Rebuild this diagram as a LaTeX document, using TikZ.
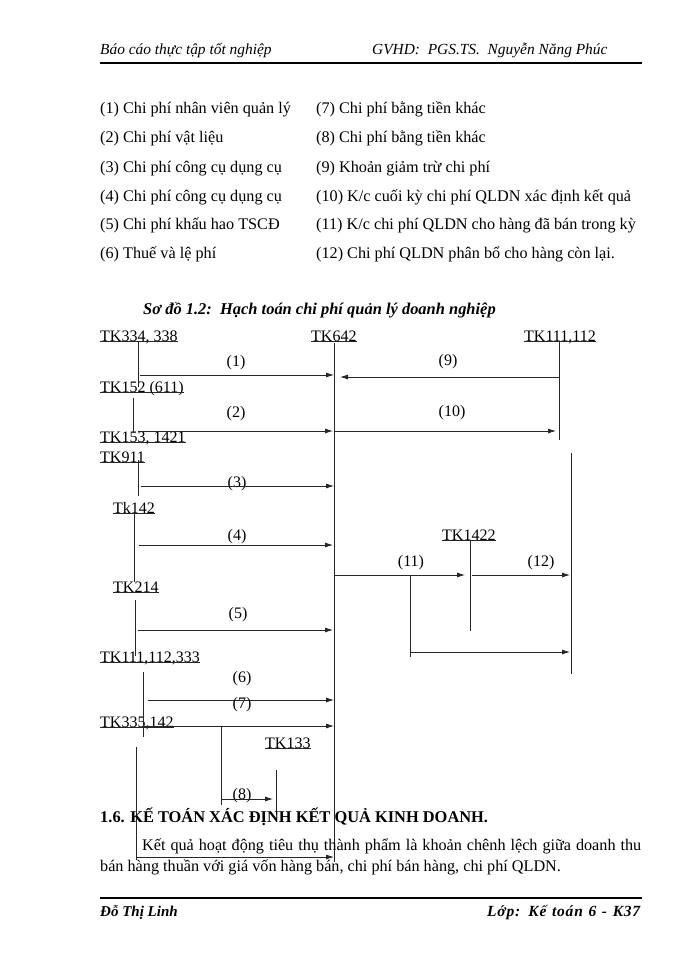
\documentclass[tikz,border=0pt]{standalone}
\usepackage{fontspec}
\setmainfont{Liberation Serif}
\usetikzlibrary{arrows.meta}
\begin{document}
\begin{tikzpicture}[x=1pt,y=-1pt,
  hdr/.style={anchor=base west, inner sep=0pt, font=\fontsize{15.4}{18}\selectfont\itshape},
  ftr/.style={anchor=base west, inner sep=0pt, font=\fontsize{15}{18}\selectfont\bfseries\itshape},
  txt/.style={anchor=base west, inner sep=0pt, font=\fontsize{16.2}{19}\selectfont},
  ttl/.style={anchor=base west, inner sep=0pt, font=\fontsize{16.45}{19}\selectfont\bfseries\itshape},
  head/.style={anchor=base west, inner sep=0pt, font=\fontsize{16.4}{20}\selectfont\bfseries},
  tk/.style={anchor=base west, inner sep=0pt, font=\fontsize{16}{18}\selectfont},
  num/.style={inner sep=0pt, font=\fontsize{16}{18}\selectfont},
  acc/.style={line width=0.8pt, draw=black!85},
  arr/.style={line width=0.8pt, draw=black!85, -{Latex[length=8pt,width=5pt]}},
  uline/.style={line width=0.7pt, draw=black!85},
  rule/.style={line width=1.4pt, draw=black}
  ]
\useasboundingbox[fill=white] (0,0) rectangle (700,960);

% header and footer
\node[hdr] (h1) at (100,55) {Báo cáo thực tập tốt nghiệp};
\node[hdr] (h2) at (372,55) {GVHD:\ \ PGS.TS.\ \ Nguyễn Năng Phúc};
\coordinate (hl1) at (100,63); \coordinate (hl2) at (642,63);
\draw[rule] (hl1) -- (hl2);
\coordinate (fl1) at (100,898); \coordinate (fl2) at (642,898);
\draw[rule] (fl1) -- (fl2);
\node[ftr] (f1) at (100,916) {Đỗ Thị Linh};
\node[ftr, font=\fontsize{15.5}{18}\selectfont\bfseries\itshape\addfontfeatures{LetterSpace=5}] (f2) at (487,916) {\makebox[153pt][s]{Lớp: Kế toán 6 - K37}};

% legend
\node[txt] (l1) at (100,114) {(1) Chi phí nhân viên quản lý};
\node[txt] (l2) at (100,143) {(2) Chi phí vật liệu};
\node[txt] (l3) at (100,172) {(3) Chi phí công cụ dụng cụ};
\node[txt] (l4) at (100,201) {(4) Chi phí công cụ dụng cụ};
\node[txt] (l5) at (100,229) {(5) Chi phí khấu hao TSCĐ};
\node[txt] (l6) at (100,258) {(6) Thuế và lệ phí};
\node[txt] (r1) at (316,114) {(7) Chi phí bằng tiền khác};
\node[txt] (r2) at (316,143) {(8) Chi phí bằng tiền khác};
\node[txt] (r3) at (316,172) {(9) Khoản giảm trừ chi phí};
\node[txt] (r4) at (316,201) {(10) K/c cuối kỳ chi phí QLDN xác định kết quả};
\node[txt] (r5) at (316,229) {(11) K/c chi phí QLDN cho hàng đã bán trong kỳ};
\node[txt] (r6) at (316,258) {(12) Chi phí QLDN phân bổ cho hàng còn lại.};

% title
\node[ttl] (title) at (143,314) {Sơ đồ 1.2:\ \ Hạch toán chi phí quản lý doanh nghiệp};

% account labels
\node[tk] (tk334) at (100,341) {TK334, 338};
\node[tk] (tk642) at (311,341) {TK642};
\node[tk] (tk111) at (524,341) {TK111,112};
\node[tk] (tk152) at (100,392) {TK152 (611)};
\node[tk] (tk153) at (100,442) {TK153, 1421};
\node[tk] (tk911) at (100,462) {TK911};
\node[tk] (tk142) at (113,513) {Tk142};
\node[tk] (tk1422) at (442,540) {TK1422};
\node[tk] (tk214) at (113,592) {TK214};
\node[tk] (tk111b) at (100,662) {TK111,112,333};
\node[tk] (tk335) at (100,727) {TK335,142};
\node[tk] (tk133) at (265,748) {TK133};
\foreach \n in {tk334,tk642,tk111,tk152,tk153,tk911,tk142,tk1422,tk214,tk111b,tk335,tk133}
  \draw[uline] ([yshift=-0.6pt]\n.base west) -- ([yshift=-0.6pt]\n.base east);

% number labels
\node[num] (n1) at (236,363) {(1)};
\node[num] (n2) at (236,414) {(2)};
\node[num] (n9) at (448,362) {(9)};
\node[num] (n10) at (452,413) {(10)};
\node[num] (n3) at (237,484) {(3)};
\node[num] (n4) at (237,537) {(4)};
\node[num] (n11) at (411,563) {(11)};
\node[num] (n12) at (541,563) {(12)};
\node[num] (n5) at (238,615) {(5)};
\node[num] (n6) at (242,679) {(6)};
\node[num] (n7) at (242,705) {(7)};
\node[num] (n8) at (242,796) {(8)};

% vertical account lines
\coordinate (v642a) at (334,343); \coordinate (v642b) at (334,862);
\coordinate (v111a) at (559,342); \coordinate (v111b) at (559,440);
\coordinate (vRa) at (571,453); \coordinate (vRb) at (571,674);
\coordinate (v334a) at (138,342); \coordinate (v334b) at (138,387);
\coordinate (v152a) at (133,398); \coordinate (v152b) at (133,433);
\coordinate (v911a) at (138,460); \coordinate (v911b) at (138,496);
\coordinate (v142a) at (134,514); \coordinate (v142b) at (134,582);
\coordinate (v214a) at (135,600); \coordinate (v214b) at (135,656);
\coordinate (v111ba) at (143,672); \coordinate (v111bb) at (143,737);
\coordinate (v335a) at (136,747); \coordinate (v335b) at (136,860);
\coordinate (v1422a) at (470,541); \coordinate (v1422b) at (470,631);
\coordinate (vb11a) at (410,576); \coordinate (vb11b) at (410,657);
\coordinate (vb7a) at (221,726); \coordinate (vb7b) at (221,805);
\coordinate (v133a) at (276,770); \coordinate (v133b) at (276,815);
\foreach \a/\b in {v642a/v642b,v111a/v111b,vRa/vRb,v334a/v334b,v152a/v152b,v911a/v911b,v142a/v142b,v214a/v214b,v111ba/v111bb,v335a/v335b,v1422a/v1422b,vb11a/vb11b,vb7a/vb7b,v133a/v133b}
  \draw[acc] (\a) -- (\b);

% arrows
\coordinate (a1s) at (140,375); \coordinate (a1e) at (334,375);
\coordinate (a9s) at (559,377); \coordinate (a9e) at (340,377);
\coordinate (a2s) at (138,431); \coordinate (a2e) at (333,431);
\coordinate (a10s) at (334,431); \coordinate (a10e) at (556,431);
\coordinate (a3s) at (141,486); \coordinate (a3e) at (334,486);
\coordinate (a4s) at (139,545); \coordinate (a4e) at (333,545);
\coordinate (a11s) at (334,575); \coordinate (a11e) at (465,575);
\coordinate (a12s) at (472,575); \coordinate (a12e) at (570,575);
\coordinate (ab11s) at (410,652); \coordinate (ab11e) at (570,652);
\coordinate (a5s) at (138,630); \coordinate (a5e) at (333,630);
\coordinate (a6s) at (148,700); \coordinate (a6e) at (334,700);
\coordinate (a7s) at (143,726); \coordinate (a7e) at (334,726);
\coordinate (a8s) at (221,799); \coordinate (a8e) at (273,799);
\coordinate (abs) at (137,857); \coordinate (abe) at (334,857);
\foreach \a/\b in {a1s/a1e,a9s/a9e,a2s/a2e,a10s/a10e,a3s/a3e,a4s/a4e,a11s/a11e,a12s/a12e,ab11s/ab11e,a5s/a5e,a6s/a6e,a7s/a7e,a8s/a8e,abs/abe}
  \draw[arr] (\a) -- (\b);

% section text
\node[head] (sec) at (100,822) {1.6. KẾ TOÁN XÁC ĐỊNH KẾT QUẢ KINH DOANH.};
\node[txt] (p1) at (142,850) {\makebox[499pt][s]{Kết quả hoạt động tiêu thụ thành phẩm là khoản chênh lệch giữa doanh thu}};
\node[txt] (p2) at (100,871) {bán hàng thuần với giá vốn hàng bán, chi phí bán hàng, chi phí QLDN.};
\end{tikzpicture}
\end{document}
